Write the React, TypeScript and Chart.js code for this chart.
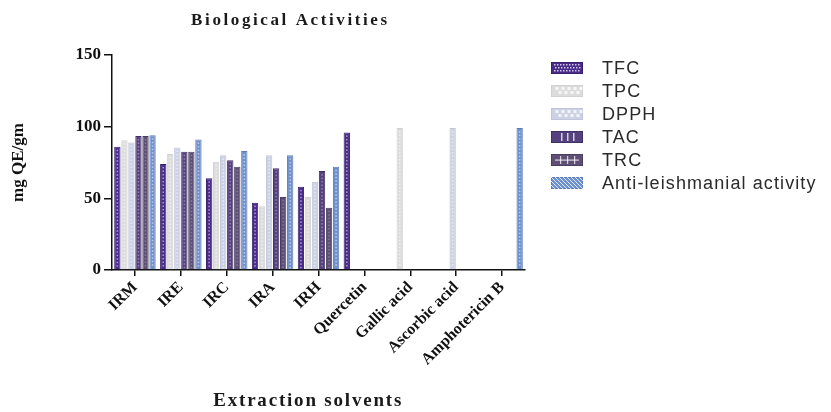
import React, { useEffect, useRef } from 'react';
import { Chart, registerables } from 'chart.js';
Chart.register(...registerables);

const TITLE = 'Biological Activities';
const X_TITLE = 'Extraction solvents';
const Y_TITLE = 'mg QE/gm';

const categories = ['IRM', 'IRE', 'IRC', 'IRA', 'IRH', 'Quercetin', 'Gallic acid', 'Ascorbic acid', 'Amphotericin B'];
const seriesLabels = ['TFC', 'TPC', 'DPPH', 'TAC', 'TRC', 'Anti-leishmanial activity'];

const tfc = [86, 74, 64, 47, 58, 96, null, null, null];
const tpc = [90.5, 81, 75.5, 44.5, 51, null, 99, null, null];
const dpph = [89, 85.5, 80, 80, 61.5, null, null, 99, null];
const tac = [93.5, 82.5, 76.5, 71, 69, null, null, null, null];
const trc = [93.5, 82.5, 72, 51, 43.5, null, null, null, null];
const antiLeish = [94, 91, 83, 80, 72, null, null, null, 99];

const yMin = 0;
const yMax = 150;
const yStep = 50;

const fills = ['#4a2b8c', '#dcdcdc', '#cdd1e4', '#56417f', '#5d5074', '#6e90cc'];
const strokes = ['#36206e', '#d2d2d2', '#c1c5db', '#402f68', '#4a3f5e', '#5b7db9'];
const dotColors = ['rgba(255,255,255,0.55)', 'rgba(255,255,255,0.6)', 'rgba(255,255,255,0.55)', 'rgba(255,255,255,0.35)', 'rgba(255,255,255,0.25)', 'rgba(255,255,255,0.55)'];

const serif = "'Liberation Serif', 'Times New Roman', serif";
const sans = "'Liberation Sans', Arial, sans-serif";

function drawSwatch(ctx: CanvasRenderingContext2D, i: number, x: number, y: number, w: number, h: number) {
  ctx.fillStyle = fills[i];
  ctx.fillRect(x, y, w, h);
  ctx.strokeStyle = strokes[i];
  ctx.lineWidth = 1;
  ctx.strokeRect(x + 0.5, y + 0.5, w - 1, h - 1);
  ctx.fillStyle = 'rgba(255,255,255,0.75)';
  ctx.strokeStyle = 'rgba(255,255,255,0.8)';
  if (i === 0) {
    for (let yy = y + 2; yy < y + h - 2; yy += 3) for (let xx = x + 3 + ((yy - y) % 2); xx < x + w - 3; xx += 3) ctx.fillRect(xx, yy, 1.5, 1.5);
  } else if (i === 1 || i === 2) {
    for (let yy = y + 2; yy < y + h - 2; yy += 4) for (let xx = x + 3 + (((yy - y) / 4) % 2) * 3; xx < x + w - 3; xx += 6) ctx.fillRect(xx, yy, 3, 3);
  } else if (i === 3) {
    for (let k = 0; k < 3; k++) ctx.fillRect(x + 10 + k * 6, y + 2, 1.5, h - 4);
  } else if (i === 4) {
    ctx.fillRect(x + 4, y + h / 2 - 0.5, w - 8, 1.2);
    for (let k = 0; k < 3; k++) ctx.fillRect(x + 9 + k * 7, y + 2, 1.2, h - 4);
  } else {
    ctx.lineWidth = 1;
    ctx.beginPath();
    for (let xx = x - h; xx < x + w; xx += 4) {
      ctx.moveTo(Math.max(xx, x), y + Math.max(0, x - xx));
      ctx.lineTo(Math.min(xx + h, x + w), y + Math.min(h, x + w - xx));
    }
    ctx.stroke();
  }
}

const decorPlugin = {
  id: 'decor',
  afterDatasetsDraw(chart: any) {
    const ctx = chart.ctx as CanvasRenderingContext2D;
    chart.data.datasets.forEach((ds: any, i: number) => {
      const meta = chart.getDatasetMeta(i);
      meta.data.forEach((bar: any, j: number) => {
        if (ds.data[j] == null) return;
        const { x, y, base } = bar.getProps(['x', 'y', 'base'], true);
        ctx.save();
        ctx.fillStyle = dotColors[i];
        for (let yy = y + 3; yy < base - 2; yy += 3.5) ctx.fillRect(x - 0.75, yy, 1.5, 1.5);
        ctx.restore();
      });
    });
  },
  afterDraw(chart: any) {
    const ctx = chart.ctx as CanvasRenderingContext2D;
    const area = chart.chartArea;
    ctx.save();
    // main title
    (ctx as any).letterSpacing = '2.6px';
    ctx.font = `bold 17px ${serif}`;
    ctx.fillStyle = '#1a1a1a';
    ctx.textAlign = 'center';
    ctx.textBaseline = 'middle';
    ctx.fillText(TITLE, area.left + (area.right - area.left) * 0.432, 13);
    // x title
    (ctx as any).letterSpacing = '1.8px';
    ctx.font = `bold 19px ${serif}`;
    ctx.fillText(X_TITLE, area.left + (area.right - area.left) * 0.475, chart.height - 7);
    // legend
    (ctx as any).letterSpacing = '1.1px';
    ctx.font = `18px ${sans}`;
    ctx.textAlign = 'left';
    ctx.fillStyle = '#2a2a2a';
    seriesLabels.forEach((lab, i) => {
      const cy = 60 + i * 23;
      const bx = area.right + 26;
      drawSwatch(ctx, i, bx, cy - 6, 32, 12);
      ctx.fillStyle = '#2a2a2a';
      ctx.fillText(lab, bx + 51, cy + 1);
    });
    (ctx as any).letterSpacing = '0px';
    ctx.restore();
  },
};

export default function App() {
  const ref = useRef<HTMLCanvasElement | null>(null);
  useEffect(() => {
    if (!ref.current) return;
    const series = [tfc, tpc, dpph, tac, trc, antiLeish];
    const chart = new Chart(ref.current, {
      type: 'bar',
      data: {
        labels: categories,
        datasets: series.map((d, i) => ({
          label: seriesLabels[i],
          data: d,
          backgroundColor: fills[i],
          borderColor: strokes[i],
          borderWidth: 1,
          barPercentage: 0.9,
          categoryPercentage: 0.92,
        })),
      },
      options: {
        responsive: false,
        animation: false,
        layout: { padding: { top: 47, right: 298, left: 0, bottom: 0 } },
        plugins: {
          legend: { display: false },
          title: { display: false },
          tooltip: { enabled: false },
        },
        scales: {
          x: {
            ticks: {
              font: { family: serif, weight: 'bold', size: 16 },
              color: '#111',
              maxRotation: 45,
              minRotation: 45,
              autoSkip: false,
              padding: 2,
            },
            grid: { display: true, drawOnChartArea: false, offset: false, tickLength: 6, color: '#111', lineWidth: 1.5 },
            border: { display: true, color: '#111', width: 1.5 },
            afterFit: (s: any) => { s.height = 138; },
          },
          y: {
            min: yMin,
            max: yMax,
            ticks: {
              stepSize: yStep,
              font: { family: serif, weight: 'bold', size: 17 },
              color: '#111',
              padding: 3,
            },
            grid: { display: true, drawOnChartArea: false, tickLength: 8, color: '#111', lineWidth: 1.5 },
            border: { display: true, color: '#111', width: 1.5 },
            title: {
              display: true,
              text: Y_TITLE,
              font: { family: serif, weight: 'bold', size: 17 },
              color: '#111',
              padding: { top: 0, bottom: 0 },
            },
            afterFit: (s: any) => { s.width = 104; },
          },
        },
      },
      plugins: [decorPlugin],
    } as any);
    return () => chart.destroy();
  }, []);
  return <canvas ref={ref} width={815} height={400} style={{ display: 'block' }} />;
}
